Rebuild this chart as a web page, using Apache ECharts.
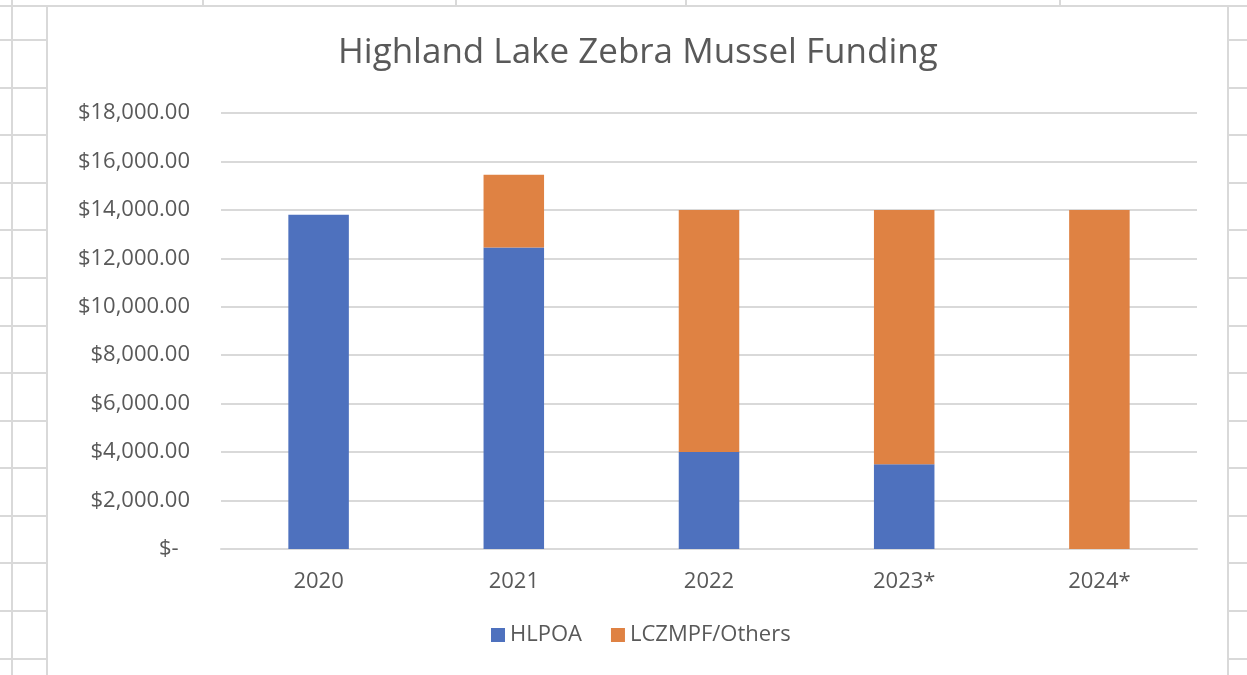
<!DOCTYPE html>
<html>
<head>
<meta charset="utf-8">
<title>Highland Lake Zebra Mussel Funding</title>
<script src="https://cdn.jsdelivr.net/npm/echarts@6/dist/echarts.min.js"></script>
<style>
  html, body { margin: 0; padding: 0; background: #fff; }
  #chart { width: 1247px; height: 675px; }
</style>
</head>
<body>
<div id="chart"></div>
<script>
// data
var years = ['2020', '2021', '2022', '2023*', '2024*'];
var hlpoa = [13800, 12450, 4000, 3500, 0];
var lczmpf = [0, 3000, 10000, 10500, 14000];
var seriesNames = ['HLPOA', 'LCZMPF/Others'];

var gridColor = '#d9d9d9';
var textColor = '#595959';
var font = 'Open Sans';

// spreadsheet cell lines behind the chart
var sheetLines = [];
var rowY = [40, 88, 135, 183, 230, 278, 326, 373, 421, 468, 516, 563, 611, 659];
rowY.forEach(function (y) {
    sheetLines.push({ type: 'line', shape: { x1: 0, y1: y, x2: 47, y2: y }, style: { stroke: gridColor, lineWidth: 2 } });
    sheetLines.push({ type: 'line', shape: { x1: 1228, y1: y, x2: 1247, y2: y }, style: { stroke: gridColor, lineWidth: 2 } });
});
[203, 456, 686, 1060].forEach(function (x) {
    sheetLines.push({ type: 'line', shape: { x1: x, y1: 0, x2: x, y2: 6 }, style: { stroke: gridColor, lineWidth: 2 } });
});
sheetLines.push({ type: 'line', shape: { x1: 12, y1: 0, x2: 12, y2: 675 }, style: { stroke: gridColor, lineWidth: 2 } });
sheetLines.push({ type: 'line', shape: { x1: 0, y1: 6, x2: 47, y2: 6 }, style: { stroke: gridColor, lineWidth: 2 } });
sheetLines.push({ type: 'line', shape: { x1: 1228, y1: 6, x2: 1247, y2: 6 }, style: { stroke: gridColor, lineWidth: 2 } });
// chart frame
sheetLines.push({ type: 'rect', shape: { x: 47, y: 6, width: 1181, height: 700 }, style: { fill: '#fff', stroke: gridColor, lineWidth: 2 }, z: -1 });

var myChart = echarts.init(document.getElementById('chart'));

var option = {
    backgroundColor: '#fff',
    animation: false,
    graphic: sheetLines.map(function (g) { g.silent = true; if (g.z === undefined) g.z = -2; return g; }),
    title: {
        text: 'Highland Lake Zebra Mussel Funding',
        left: 333,
        top: 31,
        textStyle: { fontFamily: font, fontSize: 35, fontWeight: 'normal', color: textColor }
    },
    legend: {
        data: seriesNames,
        bottom: 24,
        left: 486,
        itemWidth: 14,
        itemHeight: 14,
        itemGap: 29,
        icon: 'rect',
        textStyle: { fontFamily: font, fontSize: 22, color: textColor }
    },
    grid: { left: 221, right: 50, top: 113, bottom: 126 },
    xAxis: {
        type: 'category',
        data: years,
        axisLine: { lineStyle: { color: gridColor, width: 2 } },
        axisTick: { show: false },
        axisLabel: { fontFamily: font, fontSize: 22, color: textColor, margin: 22 }
    },
    yAxis: {
        type: 'value',
        min: 0,
        max: 18000,
        interval: 2000,
        axisLine: { show: false },
        axisTick: { show: false },
        splitLine: { lineStyle: { color: gridColor, width: 2 } },
        axisLabel: {
            fontFamily: font, fontSize: 22, color: textColor, margin: 31,
            formatter: function (v) {
                if (v === 0) return '$-  ';
                return '$' + v.toLocaleString('en-US', { minimumFractionDigits: 2, maximumFractionDigits: 2 });
            }
        }
    },
    series: [
        { name: seriesNames[0], type: 'bar', stack: 'total', data: hlpoa, barWidth: '31%', itemStyle: { color: '#4e71be' } },
        { name: seriesNames[1], type: 'bar', stack: 'total', data: lczmpf, barWidth: '31%', itemStyle: { color: '#df8243' } }
    ]
};

myChart.setOption(option);
</script>
</body>
</html>
